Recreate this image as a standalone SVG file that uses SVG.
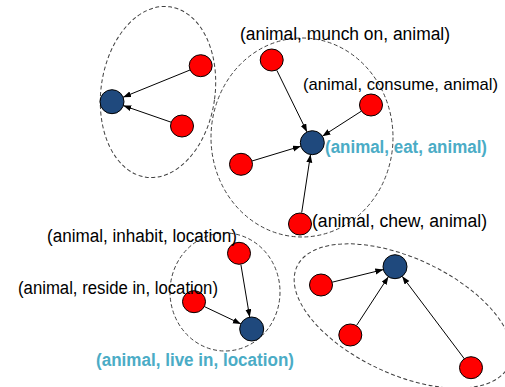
<svg xmlns="http://www.w3.org/2000/svg" width="505" height="387" viewBox="0 0 505 387">
  <defs>
    <style>
      .cluster { fill: none; stroke: #404040; stroke-width: 1; stroke-dasharray: 4 2.5; }
      .red { fill: #FF0000; stroke: #000; stroke-width: 1; }
      .blue { fill: #1F497D; stroke: #000; stroke-width: 1; }
      .edge { stroke: #000; stroke-width: 1; fill: none; marker-end: url(#arrow); }
      .lbl { font-family: "Liberation Sans", Arial, sans-serif; font-size: 18px; fill: #000; }
      .key { font-family: "Liberation Sans", Arial, sans-serif; font-size: 18px; font-weight: bold; fill: #4BACC6; }
    </style>
    <marker id="arrow" markerUnits="userSpaceOnUse" markerWidth="9" markerHeight="7" refX="8" refY="3" orient="auto">
      <path d="M0,0 L8,3 L0,6 z" fill="#000"/>
    </marker>
  </defs>

  <g id="clusters">
    <ellipse class="cluster" cx="158" cy="92" rx="57" ry="86" transform="rotate(8 158 92)"/>
    <ellipse class="cluster" cx="302" cy="137.5" rx="91" ry="99.5"/>
    <ellipse class="cluster" cx="225" cy="292" rx="55" ry="59"/>
    <ellipse class="cluster" cx="403" cy="316" rx="117" ry="58" transform="rotate(25 403 316)"/>
  </g>

  <g id="connectors">
    <line class="edge" x1="190" y1="70" x2="123.1" y2="97.2"/>
    <line class="edge" x1="171.1" y1="122.2" x2="123.3" y2="105.6"/>
    <line class="edge" x1="276.8" y1="70.3" x2="307" y2="131.9"/>
    <line class="edge" x1="361.3" y1="111.2" x2="322.4" y2="136.2"/>
    <line class="edge" x1="252" y1="161" x2="300.8" y2="146.2"/>
    <line class="edge" x1="301.7" y1="212.6" x2="310.5" y2="154.6"/>
    <line class="edge" x1="240.9" y1="264.6" x2="249.7" y2="317.2"/>
    <line class="edge" x1="204.4" y1="306.6" x2="240.9" y2="323.9"/>
    <line class="edge" x1="332.2" y1="282.2" x2="383.3" y2="269.6"/>
    <line class="edge" x1="356.6" y1="325.4" x2="388.4" y2="276.7"/>
    <line class="edge" x1="467.5" y1="363" x2="402.2" y2="276.3"/>
  </g>

  <g id="n-tl-blue"><circle class="blue" cx="112" cy="101.7" r="12"/></g>
  <g id="n-tl-red1"><ellipse class="red" cx="200.7" cy="65.7" rx="11.5" ry="11"/></g>
  <g id="n-tl-red2"><ellipse class="red" cx="182" cy="126" rx="11.5" ry="11"/></g>

  <g id="n-eat"><circle class="blue" cx="312.3" cy="142.7" r="12"/>
    <text class="key" x="325" y="153" textLength="162" lengthAdjust="spacingAndGlyphs">(animal, eat, animal)</text></g>
  <g id="n-munch"><ellipse class="red" cx="271.7" cy="60" rx="11.5" ry="11"/>
    <text class="lbl" x="240" y="40" textLength="210" lengthAdjust="spacingAndGlyphs">(animal, munch on, animal)</text></g>
  <g id="n-consume"><ellipse class="red" cx="371" cy="105" rx="11.5" ry="11"/>
    <text class="lbl" x="303" y="90" font-size="17" style="font-size:17px" textLength="195" lengthAdjust="spacingAndGlyphs">(animal, consume, animal)</text></g>
  <g id="n-eat-red3"><ellipse class="red" cx="241" cy="164.3" rx="11.5" ry="11"/></g>
  <g id="n-chew"><ellipse class="red" cx="300" cy="224" rx="11.5" ry="11"/>
    <text class="lbl" x="312" y="227" textLength="175" lengthAdjust="spacingAndGlyphs">(animal, chew, animal)</text></g>

  <g id="n-livein"><circle class="blue" cx="251.7" cy="329" r="12"/>
    <text class="key" x="96" y="366" textLength="198" lengthAdjust="spacingAndGlyphs">(animal, live in, location)</text></g>
  <g id="n-inhabit"><ellipse class="red" cx="239" cy="253.3" rx="11.5" ry="11"/>
    <text class="lbl" x="47" y="242" textLength="190" lengthAdjust="spacingAndGlyphs">(animal, inhabit, location)</text></g>
  <g id="n-reside"><ellipse class="red" cx="194" cy="301.7" rx="11.5" ry="11"/>
    <text class="lbl" x="18" y="294" textLength="200" lengthAdjust="spacingAndGlyphs">(animal, reside in, location)</text></g>

  <g id="n-br-blue"><circle class="blue" cx="395" cy="266.7" r="12"/></g>
  <g id="n-br-red1"><ellipse class="red" cx="321" cy="285" rx="11.5" ry="11"/></g>
  <g id="n-br-red2"><ellipse class="red" cx="350.3" cy="335" rx="11.5" ry="11"/></g>
  <g id="n-br-red3"><ellipse class="red" cx="471" cy="367.7" rx="11.5" ry="11"/></g>
</svg>
